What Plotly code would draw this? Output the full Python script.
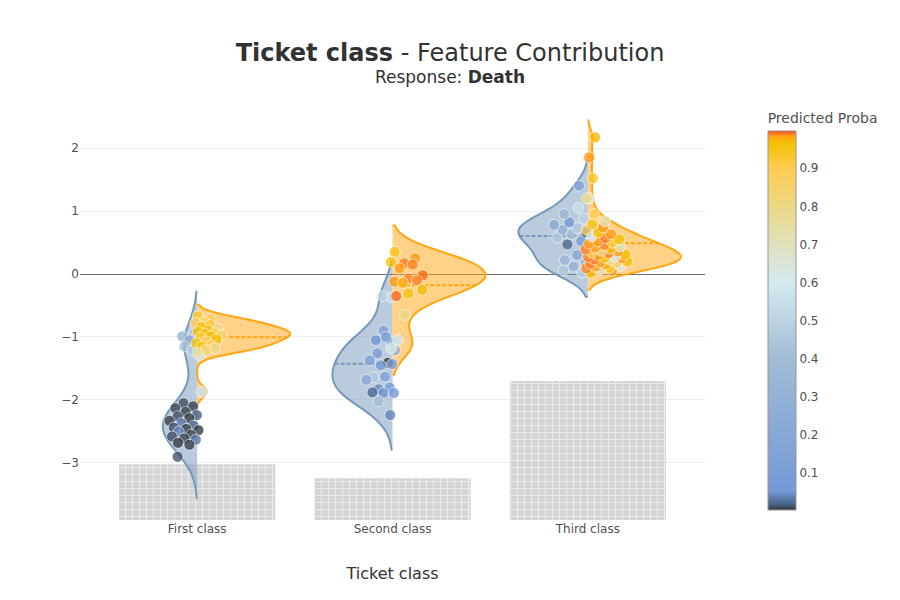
import math
import plotly.graph_objects as go

# ---------------- data ----------------
categories = ["First class", "Second class", "Third class"]
positions = [0, 1, 2]
bar_counts = [40, 30, 100]

# contributions / predicted probabilities on the "negative" (blue) side
first_neg_contrib = [-0.94, -0.99, -1.05, -1.12, -1.15, -1.21, -1.29,
                     -2.05, -2.10, -2.13, -2.19, -2.24, -2.26, -2.29, -2.33, -2.37, -2.41,
                     -2.44, -2.46, -2.48, -2.50, -2.55, -2.58, -2.61, -2.63, -2.68, -2.71, -2.90]
first_neg_proba = [0.45, 0.35, 0.20, 0.50, 0.40, 0.45, 0.55,
                   0.010, 0.006, 0.008, 0.005, 0.015, 0.010, 0.004, 0.006, 0.030, 0.020,
                   0.010, 0.005, 0.005, 0.040, 0.008, 0.010, 0.006, 0.030, 0.004, 0.005, 0.012]

second_neg_contrib = [-0.37, -0.35, -0.90, -1.08, -1.05, -1.00, -1.21, -1.26, -1.41, -1.37, -1.45,
                      -1.43, -1.64, -1.63, -1.68, -1.83, -1.80, -1.88, -1.89, -1.89, -2.02, -2.24]
second_neg_proba = [0.55, 0.50, 0.15, 0.20, 0.05, 0.10, 0.25, 0.10, 0.003, 0.12, 0.06,
                    0.10, 0.45, 0.15, 0.20, 0.04, 0.08, 0.02, 0.05, 0.06, 0.40, 0.04]

third_neg_contrib = [0.02, 0.06, 0.12, 0.18, 0.22, 0.30, 0.40, 0.47, 0.52, 0.58, 0.63,
                     0.66, 0.70, 0.73, 0.78, 0.82, 0.88, 0.95, 1.05, 1.20, 1.40]
third_neg_proba = [0.50, 0.45, 0.30, 0.40, 0.35, 0.20, 0.25, 0.02, 0.10, 0.45, 0.40,
                   0.005, 0.30, 0.45, 0.20, 0.06, 0.50, 0.35, 0.55, 0.60, 0.15]

# contributions / predicted probabilities on the "positive" (orange) side
first_pos_contrib = [-0.67, -0.72, -0.76, -0.78, -0.81, -0.84, -0.87, -0.89, -0.92, -0.94, -0.95,
                     -0.97, -0.99, -1.01, -1.04, -1.07, -1.10, -1.13, -1.15, -1.18, -1.21, -1.25, -1.87]
first_pos_proba = [0.93, 0.90, 0.85, 0.88, 0.92, 0.96, 0.80, 0.95, 0.97, 0.90, 0.96,
                   0.85, 0.97, 0.93, 0.97, 0.88, 0.96, 0.90, 0.95, 0.80, 0.83, 0.75, 0.56]

second_pos_contrib = [0.35, 0.25, 0.17, 0.19, 0.15, 0.09, -0.02, -0.07, -0.12, -0.10, -0.14,
                      -0.25, -0.31, -0.35, -0.65, -1.05, -1.18]
second_pos_proba = [0.95, 0.985, 0.99, 0.96, 0.99, 0.985, 0.994, 0.99, 0.985, 0.99, 0.98,
                    0.97, 0.96, 0.994, 0.80, 0.58, 0.62]

third_pos_contrib = [0.02, 0.05, 0.07, 0.09, 0.10, 0.12, 0.13, 0.15, 0.16, 0.18, 0.19, 0.20,
                     0.22, 0.23, 0.25, 0.26, 0.27, 0.28, 0.30, 0.31, 0.33, 0.34, 0.36, 0.37,
                     0.39, 0.41, 0.42, 0.44, 0.46, 0.48, 0.50, 0.52, 0.55, 0.57, 0.60, 0.63,
                     0.66, 0.70, 0.74, 0.79, 0.84, 0.95, 1.20, 1.52, 1.85, 2.17]
third_pos_proba = [0.97, 0.985, 0.70, 0.99, 0.93, 0.985, 0.62, 0.98, 0.99, 0.90, 0.985, 0.97,
                   0.75, 0.99, 0.985, 0.96, 0.99, 0.65, 0.985, 0.97, 0.99, 0.90, 0.985, 0.80,
                   0.99, 0.97, 0.985, 0.68, 0.99, 0.985, 0.92, 0.985, 0.97, 0.99, 0.60, 0.985,
                   0.97, 0.85, 0.985, 0.95, 0.72, 0.90, 0.80, 0.93, 0.985, 0.975]

neg_contribs = [first_neg_contrib, second_neg_contrib, third_neg_contrib]
neg_probas = [first_neg_proba, second_neg_proba, third_neg_proba]
pos_contribs = [first_pos_contrib, second_pos_contrib, third_pos_contrib]
pos_probas = [first_pos_proba, second_pos_proba, third_pos_proba]

# ---------------- style ----------------
FONT = "DejaVu Sans"
TXT = "rgb(50,50,50)"
TICK = "rgb(80,80,80)"
BLUE_LINE = "rgb(117,152,189)"
BLUE_FILL = "rgba(117,152,189,0.5)"
ORANGE_LINE = "rgb(255,166,17)"
ORANGE_FILL = "rgba(255,166,17,0.5)"
neg_widths = [0.35, 0.615, 0.71]
pos_widths = [0.952, 0.952, 0.952]
neg_bw = [0.33, 0.275, 0.19]
pos_bw = [0.09, 0.21, 0.135]
neg_amp = [0.165, 0.155, 0.2]
pos_amp = [0.14, 0.19, 0.225]

colorscale = [
    [0.0, "rgb(52,55,54)"],
    [0.015, "rgb(74,99,138)"],
    [0.05, "rgb(116,153,214)"],
    [0.4, "rgb(162,188,213)"],
    [0.6, "rgb(212,234,242)"],
    [0.8, "rgb(235,216,134)"],
    [0.9, "rgb(255,204,83)"],
    [0.97, "rgb(244,192,0)"],
    [0.985, "rgb(255,166,17)"],
    [0.993, "rgb(255,123,38)"],
    [1.0, "rgb(255,77,7)"],
]


def density_jitter(vals, bw, base, sign, amp, phase):
    dens = [sum(math.exp(-0.5 * ((v - u) / bw) ** 2) for u in vals) for v in vals]
    m = max(dens)
    out = []
    for i, d in enumerate(dens):
        f = (i * 0.618034 + phase) % 1.0
        out.append(base + sign * amp * math.sqrt(d / m) * f)
    return out


fig = go.Figure()

# distribution bars (main y axis, hidden)
fig.add_trace(go.Bar(
    x=positions, y=bar_counts, width=0.8, yaxis="y",
    marker=dict(color="rgb(212,212,212)", line=dict(width=0),
                pattern=dict(shape="+", fgcolor="white", bgcolor="rgb(212,212,212)",
                             size=7, solidity=0.3)),
    hoverinfo="skip", showlegend=False,
))

# violins
for i, pos in enumerate(positions):
    fig.add_trace(go.Violin(
        x=[pos] * len(neg_contribs[i]), y=neg_contribs[i], yaxis="y2",
        side="negative", width=neg_widths[i], scalemode="width",
        bandwidth=neg_bw[i], spanmode="soft", points=False,
        line=dict(color=BLUE_LINE, width=2), fillcolor=BLUE_FILL,
        meanline=dict(visible=True, color=BLUE_LINE, width=2),
        showlegend=False, hoverinfo="skip",
    ))
    fig.add_trace(go.Violin(
        x=[pos] * len(pos_contribs[i]), y=pos_contribs[i], yaxis="y2",
        side="positive", width=pos_widths[i], scalemode="width",
        bandwidth=pos_bw[i], spanmode="soft", points=False,
        line=dict(color=ORANGE_LINE, width=2), fillcolor=ORANGE_FILL,
        meanline=dict(visible=True, color=ORANGE_LINE, width=2),
        showlegend=False, hoverinfo="skip",
    ))

# scatter points
xs, ys, cs = [], [], []
for i, pos in enumerate(positions):
    offs = density_jitter(neg_contribs[i], neg_bw[i], 0.015, -1, neg_amp[i], 0.31)
    xs += [pos + o for o in offs]
    ys += neg_contribs[i]
    cs += neg_probas[i]
for i, pos in enumerate(positions):
    offs = density_jitter(pos_contribs[i], pos_bw[i], -0.012, 1, pos_amp[i], 0.17)
    xs += [pos + o for o in offs]
    ys += pos_contribs[i]
    cs += pos_probas[i]

fig.add_trace(go.Scatter(
    x=xs, y=ys, yaxis="y2", mode="markers", showlegend=False,
    marker=dict(size=11, color=cs, colorscale=colorscale, cmin=0.002, cmax=0.998,
                opacity=0.8, line=dict(width=0.8, color="rgba(255,255,255,0.9)"),
                colorbar=dict(
                    title=dict(text="Predicted Proba", side="top",
                               font=dict(size=14, color=TICK, family=FONT)),
                    x=1.085, thickness=28, outlinecolor="rgb(150,150,150)", outlinewidth=1,
                    tickfont=dict(size=12, color=TICK, family=FONT),
                )),
))

fig.update_layout(
    width=900, height=600,
    font=dict(family=FONT, color=TXT),
    paper_bgcolor="white", plot_bgcolor="white",
    margin=dict(l=80, r=195, t=100, b=80),
    violinmode="overlay",
    title=dict(
        text="<span style='font-size:24px'><b>Ticket class</b> - Feature Contribution</span>"
             "<br>Response: <b>Death</b>",
        x=0.5, xanchor="center", xref="container", y=0.898, yanchor="top",
        font=dict(size=17, color=TXT, family=FONT),
    ),
    xaxis=dict(range=[-0.6, 2.6], tickvals=positions, ticktext=categories,
               showgrid=False, zeroline=False, showline=False,
               tickfont=dict(size=12, color=TICK),
               title=dict(text="Ticket class", standoff=32, font=dict(size=16, color=TXT))),
    yaxis=dict(range=[0, 302], visible=False, showgrid=False, zeroline=False),
    yaxis2=dict(overlaying="y", side="left", range=[-3.905, 2.762],
                showgrid=True, gridcolor="rgb(238,238,238)",
                zeroline=True, zerolinecolor="rgb(110,110,110)", zerolinewidth=1,
                showline=False, tickfont=dict(size=12, color=TICK)),
)

fig.write_html("out.html", config={"displayModeBar": False},
               post_script="document.body.style.margin='0px';")
